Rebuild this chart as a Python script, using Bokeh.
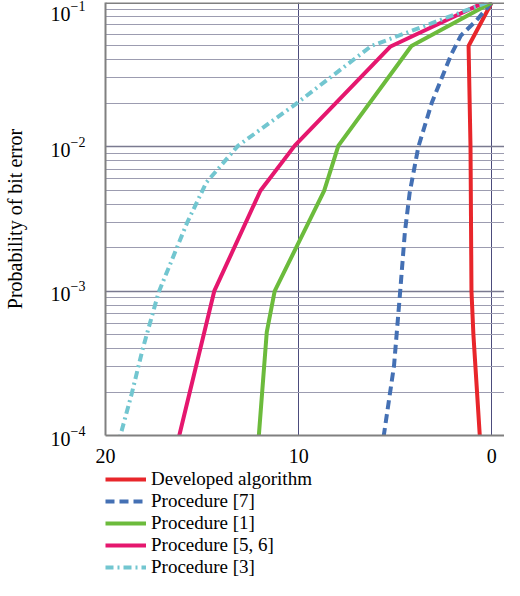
from bokeh.plotting import figure
from bokeh.models import Range1d, FixedTicker, Legend, LegendItem, Span
from bokeh.layouts import column
from bokeh.embed import file_html
from bokeh.resources import INLINE

# ---- data ----
x_ticks = [20, 10, 0]
y_ticks = [1e-4, 1e-3, 1e-2, 1e-1]
y_minor = [m * 10.0 ** e for e in (-4, -3, -2) for m in range(2, 10)]
X_START, X_END = 20, -0.66
Y_MIN, Y_MAX = 1e-4, 1e-1

names = ["Developed algorithm", "Procedure [7]", "Procedure [1]",
         "Procedure [5, 6]", "Procedure [3]"]

dev_x = [0.0, 1.2, 1.1, 1.05, 0.95, 0.62]
dev_y = [0.1, 0.05, 0.01, 0.001, 0.0005, 0.0001]

p7_x = [0.0, 0.8, 1.6, 2.1, 3.1, 3.8, 4.25, 4.5, 4.74, 5.06, 5.59]
p7_y = [0.1, 0.075, 0.059, 0.0436, 0.0203, 0.01, 0.0048, 0.00255, 0.001, 0.000305, 0.0001]

p1_x = [0.0, 4.16, 7.94, 8.68, 11.24, 11.65, 12.06]
p1_y = [0.1, 0.05, 0.0102, 0.00496, 0.001, 0.00052, 0.0001]

p56_x = [0.4, 5.24, 10.2, 11.98, 14.37, 16.18]
p56_y = [0.1, 0.0496, 0.0102, 0.00496, 0.001, 0.0001]

p3_x = [0.25, 2.77, 6.23, 10.17, 13.13, 14.78, 15.77, 17.25, 18.08, 18.65, 19.23]
p3_y = [0.1, 0.0747, 0.05, 0.0197, 0.0102, 0.00566, 0.00299, 0.00098, 0.000395, 0.000193, 0.0001]

series = [
    (dev_x, dev_y, "#e8262b", "solid"),
    (p7_x, p7_y, "#4470b4", "9 5"),
    (p1_x, p1_y, "#6cbb3c", "solid"),
    (p56_x, p56_y, "#e5176e", "solid"),
    (p3_x, p3_y, "#72c6d0", "8 4 2 4"),
]

FONT = "Liberation Serif"

# ---- main chart ----
p = figure(width=504, height=468,
           x_range=Range1d(X_START, X_END), y_range=Range1d(Y_MIN, Y_MAX),
           y_axis_type="log", output_backend="svg", toolbar_location=None,
           min_border_left=86, min_border_right=0, min_border_top=2,
           min_border_bottom=33)
p.outline_line_color = None
p.background_fill_color = "white"

xt = FixedTicker(ticks=x_ticks)
p.xaxis.ticker = xt
p.xgrid.ticker = xt
p.xgrid.grid_line_color = "#4c4c7c"
p.xgrid.grid_line_width = 1
p.xaxis.major_tick_line_color = None
p.xaxis.minor_tick_line_color = None
p.xaxis.axis_line_color = "#808080"
p.xaxis.axis_line_width = 2
p.xaxis.major_label_text_font = FONT
p.xaxis.major_label_text_font_size = "20px"
p.xaxis.major_label_text_color = "black"
p.xaxis.major_label_standoff = 7

yt = FixedTicker(ticks=y_ticks, minor_ticks=y_minor)
p.yaxis.ticker = yt
p.ygrid.ticker = yt
p.ygrid.grid_line_color = "#7a7a90"
p.ygrid.grid_line_width = 1.5
p.ygrid.minor_grid_line_color = "#9c9cb0"
p.ygrid.minor_grid_line_width = 1
p.yaxis.major_tick_line_color = None
p.yaxis.minor_tick_line_color = None
p.yaxis.axis_line_color = "#808080"
p.yaxis.axis_line_width = 2
p.yaxis.major_label_text_font = FONT
p.yaxis.major_label_text_font_size = "20px"
p.yaxis.major_label_text_color = "black"
p.yaxis.major_label_standoff = 14
p.yaxis.axis_label = "Probability of bit error"
p.yaxis.axis_label_text_font = FONT
p.yaxis.axis_label_text_font_size = "20px"
p.yaxis.axis_label_text_font_style = "normal"
p.yaxis.axis_label_text_color = "black"
p.yaxis.axis_label_standoff = 22

p.add_layout(Span(location=Y_MAX, dimension="width", line_color="#808080", line_width=3))

for xs, ys, col, dash in series:
    p.line(xs, ys, line_color=col, line_width=4, line_dash=dash)

# ---- legend strip (its proxy lines lie outside its own view) ----
lg = figure(width=504, height=112, x_range=Range1d(-3, -2), y_range=Range1d(0, 1),
            output_backend="svg", toolbar_location=None,
            x_axis_location=None, y_axis_location=None,
            min_border_left=76, min_border_right=0, min_border_top=0,
            min_border_bottom=0)
lg.outline_line_color = None
lg.xgrid.visible = False
lg.ygrid.visible = False

items = []
for name, (xs, ys, col, dash) in zip(names, series):
    r = lg.line(xs, ys, line_color=col, line_width=4, line_dash=dash)
    items.append(LegendItem(label=name, renderers=[r]))

legend = Legend(items=items, location="top_left",
                glyph_width=41, glyph_height=22, label_height=22,
                label_standoff=5, spacing=0, padding=0, margin=0,
                label_text_font=FONT, label_text_font_size="19px",
                label_text_color="black",
                border_line_color=None, background_fill_alpha=0)
lg.add_layout(legend)

layout = column(p, lg, spacing=0)
open("out.html", "w").write(file_html(layout, INLINE))
